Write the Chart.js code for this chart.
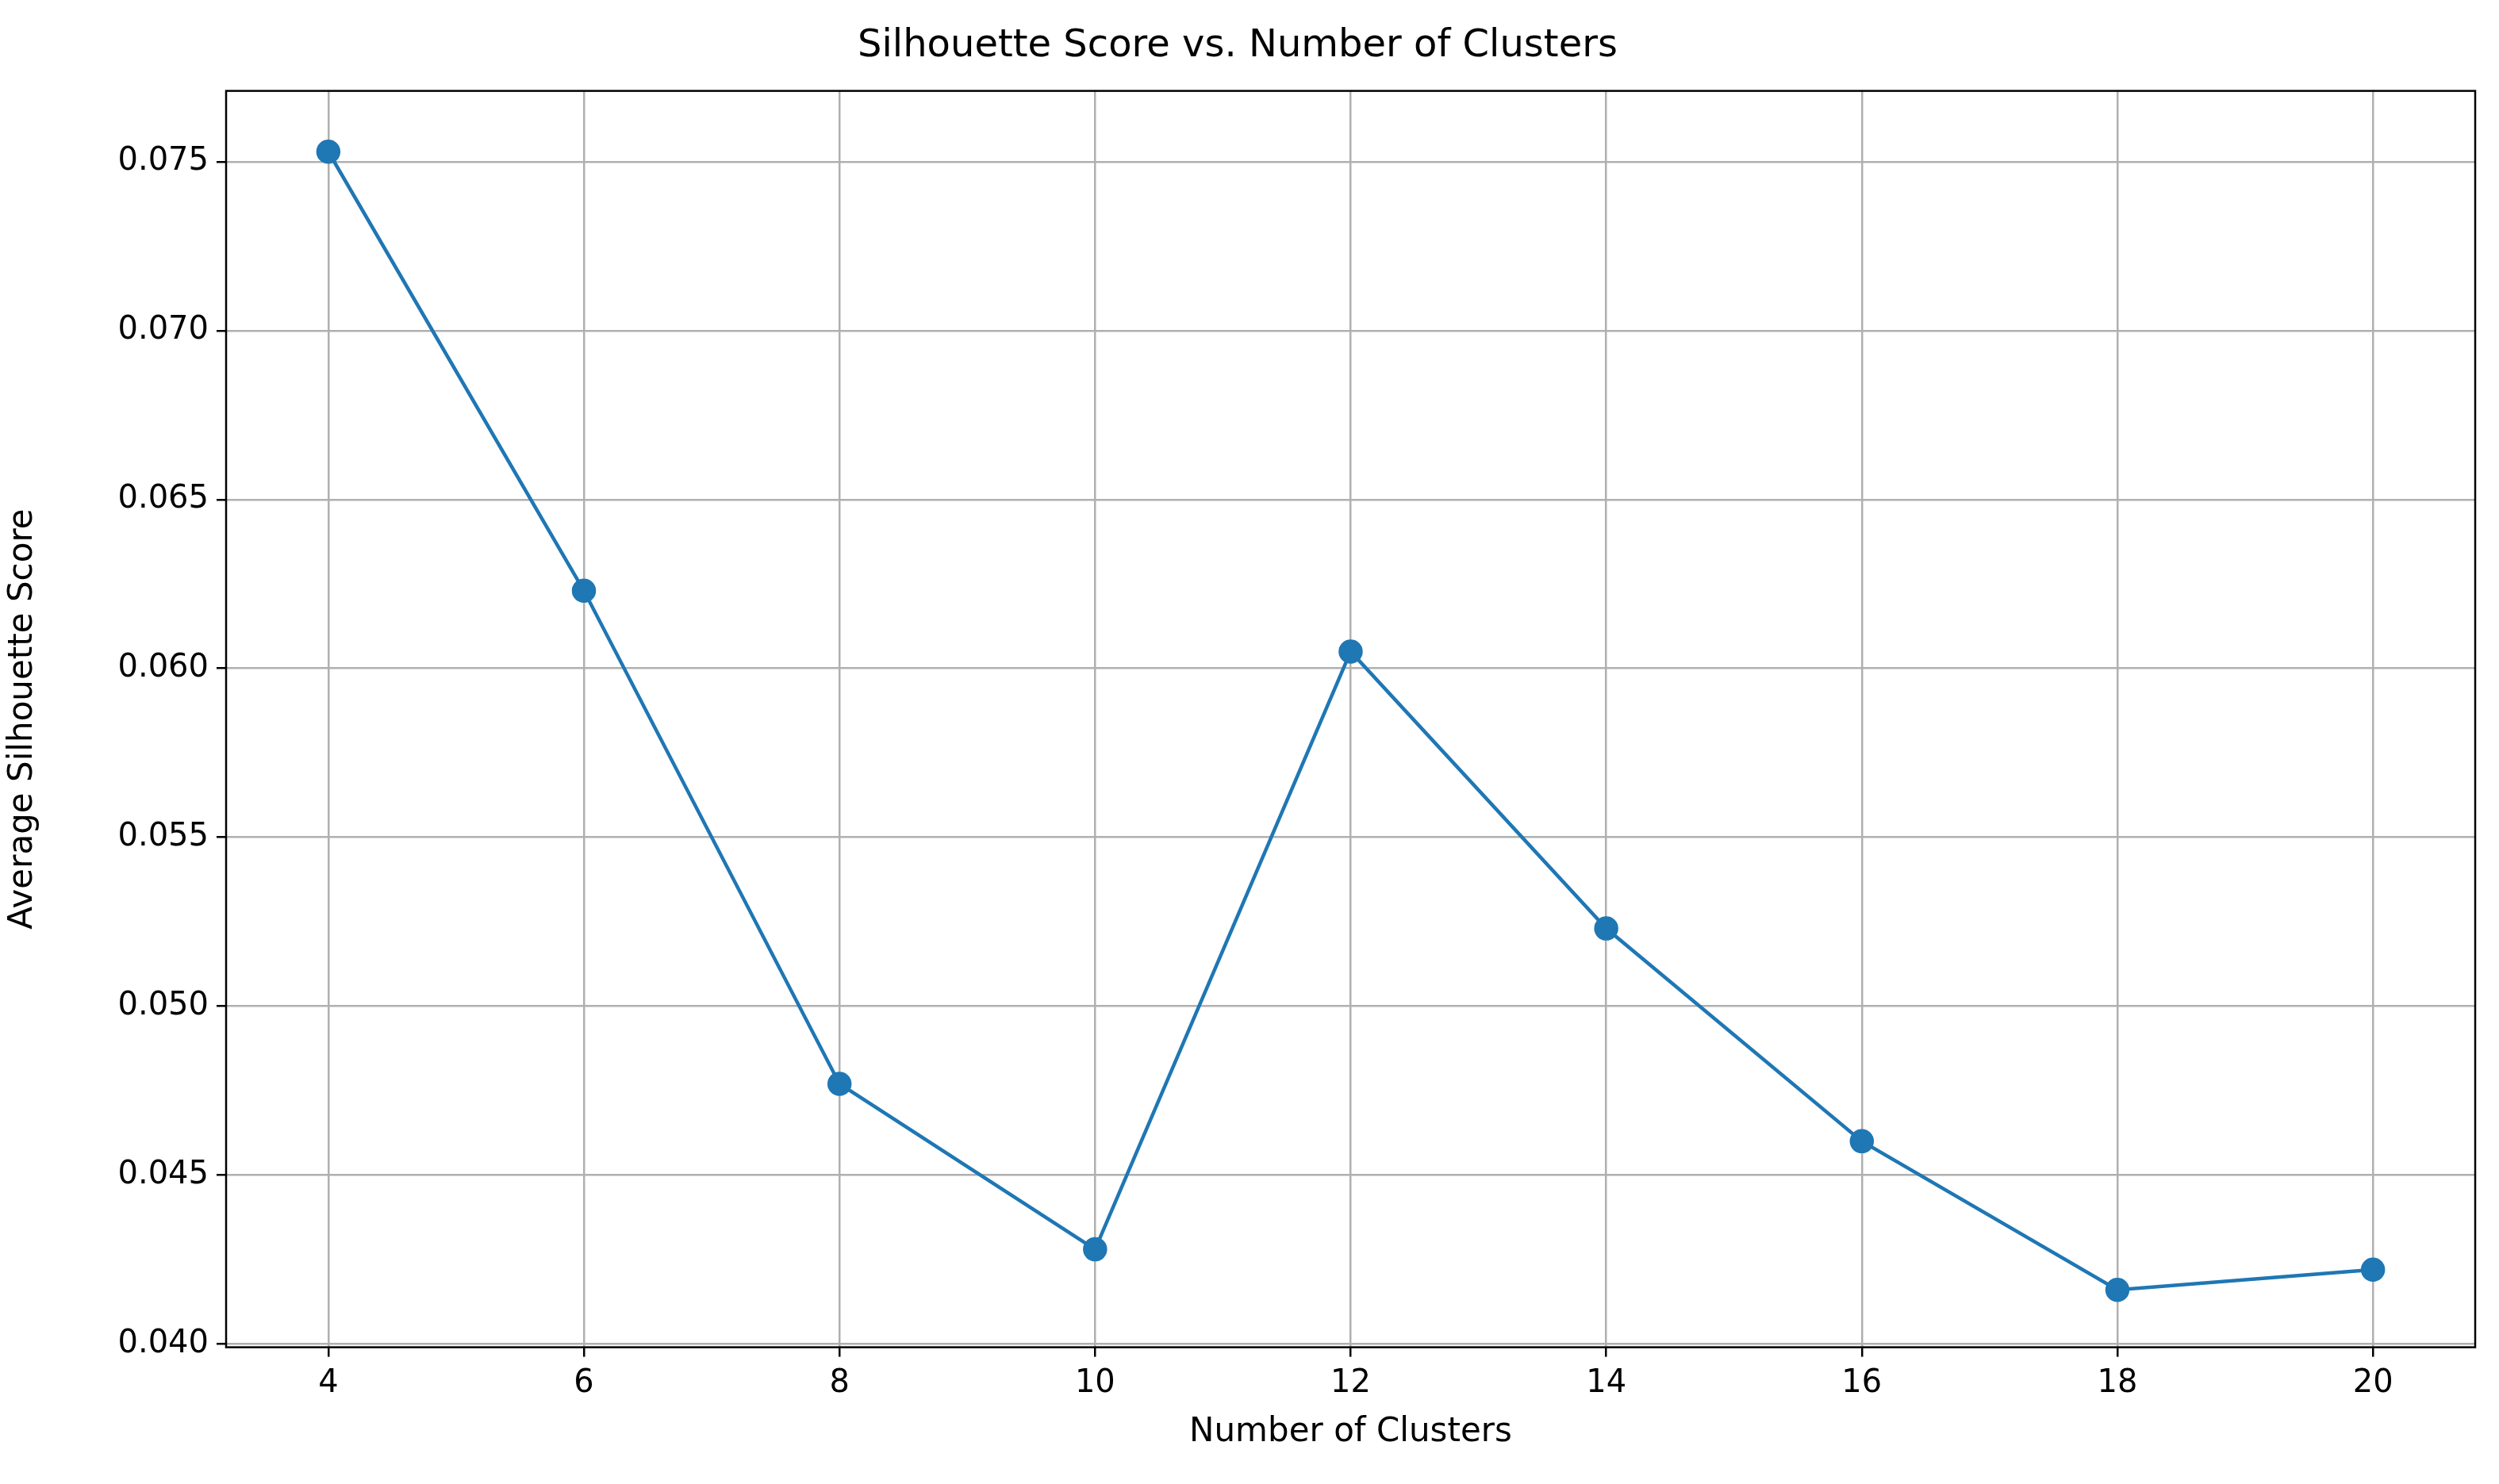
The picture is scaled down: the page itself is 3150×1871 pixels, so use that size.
<!DOCTYPE html>
<html>
<head>
<meta charset="utf-8">
<script src="https://cdn.jsdelivr.net/npm/chart.js@4"></script>
<style>
  html, body { margin: 0; padding: 0; background: #fff; }
  #wrap { width: 3150px; height: 1871px; }
</style>
</head>
<body>
<div id="wrap"><canvas id="myChart"></canvas></div>
<script>
const clusters = [4, 6, 8, 10, 12, 14, 16, 18, 20];
const scores = [0.0753, 0.0623, 0.0477, 0.0428, 0.0605, 0.0523, 0.0460, 0.0416, 0.0422];
const xTicks = [4, 6, 8, 10, 12, 14, 16, 18, 20];
const yTicks = [0.040, 0.045, 0.050, 0.055, 0.060, 0.065, 0.070, 0.075];

const frame = {
    id: 'frame',
    afterDraw(chart) {
        const { ctx, chartArea: a } = chart;
        ctx.save();
        ctx.strokeStyle = '#000';
        ctx.lineWidth = 2.5;
        ctx.strokeRect(a.left, a.top, a.right - a.left, a.bottom - a.top);
        ctx.restore();
    }
};

Chart.defaults.font.family = 'DejaVu Sans';
Chart.defaults.color = '#000';

new Chart(document.getElementById('myChart').getContext('2d'), {
    type: 'line',
    data: {
        datasets: [{
            data: clusters.map((c, i) => ({ x: c, y: scores[i] })),
            borderColor: '#1f77b4',
            backgroundColor: '#1f77b4',
            borderWidth: 4.5,
            pointRadius: 13,
            pointHoverRadius: 13,
            tension: 0
        }]
    },
    plugins: [frame],
    options: {
        responsive: true,
        maintainAspectRatio: false,
        devicePixelRatio: 1,
        animation: false,
        layout: { padding: { left: 0, right: 30, top: 0, bottom: 40 } },
        plugins: {
            legend: { display: false },
            tooltip: { enabled: false },
            title: {
                display: true,
                text: 'Silhouette Score vs. Number of Clusters',
                font: { size: 48, weight: 'normal' },
                padding: { top: 30, bottom: 27 }
            }
        },
        scales: {
            x: {
                type: 'linear',
                min: 3.2, max: 20.8,
                afterBuildTicks: s => { s.ticks = xTicks.map(v => ({ value: v })); },
                ticks: { font: { size: 40 }, padding: 10, callback: v => String(v) },
                grid: { color: '#b0b0b0', lineWidth: 2.5, tickLength: 12, tickColor: '#000' },
                border: { display: false },
                title: { display: true, text: 'Number of Clusters', font: { size: 42 }, padding: { top: 2, bottom: 0 } }
            },
            y: {
                min: 0.0399, max: 0.0771,
                afterBuildTicks: s => { s.ticks = yTicks.map(v => ({ value: v })); },
                afterFit: s => { s.width = 285; },
                ticks: { font: { size: 40 }, padding: 10, callback: v => v.toFixed(3) },
                grid: { color: '#b0b0b0', lineWidth: 2.5, tickLength: 12, tickColor: '#000' },
                border: { display: false },
                title: { display: true, text: 'Average Silhouette Score', font: { size: 42 }, padding: { bottom: 4 } }
            }
        }
    }
});
</script>
</body>
</html>
